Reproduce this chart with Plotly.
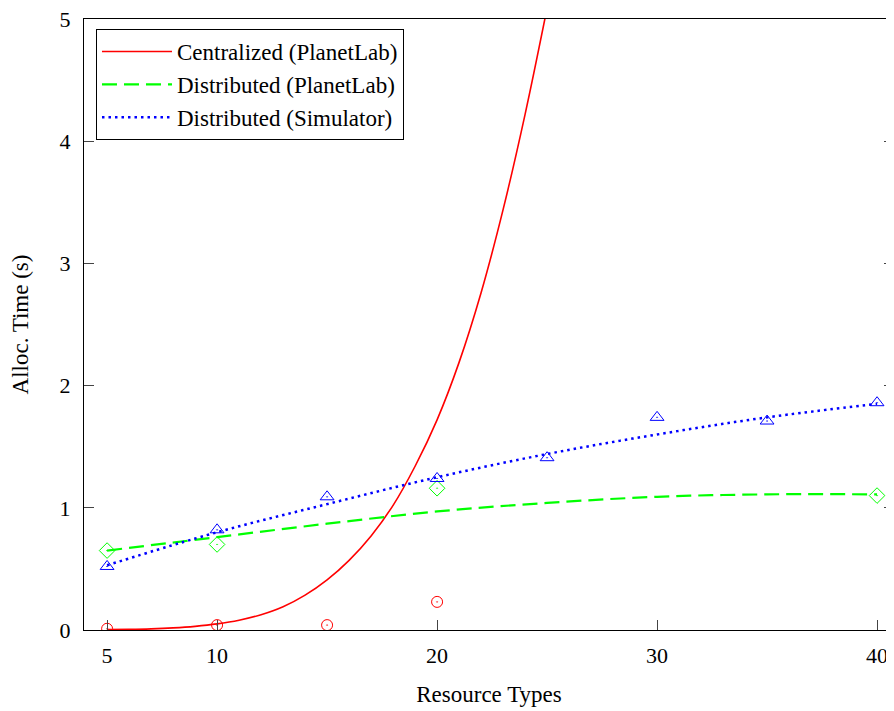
import plotly.graph_objects as go

# measured points
x_cent_pts = [5, 10, 15, 20]
y_cent_pts = [0.01, 0.04, 0.04, 0.23]
x_dist_pts = [5, 10, 20, 40]
y_dist_pts = [0.65, 0.70, 1.16, 1.10]
x_sim_pts = [5, 10, 15, 20, 25, 30, 35, 40]
y_sim_pts = [0.52, 0.82, 1.09, 1.24, 1.41, 1.74, 1.71, 1.86]

# fitted curves
x_cent_fit = [5, 6, 7, 8, 9, 10, 11, 12, 13, 14, 15, 16, 17, 18, 19, 20, 21, 22, 23, 24, 25]
y_cent_fit = [0.003, 0.005, 0.009, 0.017, 0.03, 0.05, 0.08, 0.125, 0.19, 0.285, 0.41, 0.57, 0.77, 1.02, 1.34, 1.72, 2.19, 2.76, 3.44, 4.22, 5.09]
x_dist_fit = [5, 10, 15, 20, 25, 30, 35, 40]
y_dist_fit = [0.65, 0.76, 0.87, 0.97, 1.04, 1.09, 1.11, 1.11]
x_sim_fit = [5, 10, 15, 20, 25, 30, 35, 40]
y_sim_fit = [0.53, 0.80, 1.03, 1.25, 1.44, 1.60, 1.74, 1.85]

x_ticks = [5, 10, 20, 30, 40]
y_ticks = [0, 1, 2, 3, 4, 5]

RED, GREEN, BLUE = "#ff0000", "#00ff00", "#0000ff"
FONT = "Liberation Serif, Times New Roman, serif"

fig = go.Figure()
fig.add_trace(go.Scatter(x=x_cent_fit, y=y_cent_fit, mode="lines", name="Centralized (PlanetLab)",
                         line=dict(color=RED, width=1.6, shape="spline")))
fig.add_trace(go.Scatter(x=x_dist_fit, y=y_dist_fit, mode="lines", name="Distributed (PlanetLab)",
                         line=dict(color=GREEN, width=2.2, dash="15px,7px", shape="spline")))
fig.add_trace(go.Scatter(x=x_sim_fit, y=y_sim_fit, mode="lines", name="Distributed (Simulator)",
                         line=dict(color=BLUE, width=2.5, dash="2.5px,4px", shape="spline")))
fig.add_trace(go.Scatter(x=x_cent_pts, y=y_cent_pts, mode="markers", showlegend=False,
                         marker=dict(symbol="circle-open-dot", size=11, color=RED, line=dict(width=1))))
fig.add_trace(go.Scatter(x=x_dist_pts, y=y_dist_pts, mode="markers", showlegend=False,
                         marker=dict(symbol="diamond-open-dot", size=12, color=GREEN, line=dict(width=1))))
fig.add_trace(go.Scatter(x=x_sim_pts, y=y_sim_pts, mode="markers", showlegend=False,
                         marker=dict(symbol="triangle-up-open-dot", size=12, color=BLUE, line=dict(width=1))))

# page has an 8px body margin: shrink figure and margins to compensate
fig.update_layout(
    width=886, height=703,
    margin=dict(l=76, r=0, t=11, b=81),
    plot_bgcolor="white", paper_bgcolor="white",
    font=dict(family=FONT, size=22, color="black"),
    showlegend=True,
    legend=dict(x=0.0148, y=0.9836, xanchor="left", yanchor="top",
                bordercolor="black", borderwidth=1, bgcolor="white",
                font=dict(family=FONT, size=23), tracegroupgap=0,
                itemwidth=70),
    xaxis=dict(range=[3.95, 40.77], tickvals=x_ticks, ticks="inside", ticklen=10,
               showline=True, linecolor="black", linewidth=1, mirror=True,
               showgrid=False, zeroline=False, ticklabelstandoff=6,
               ticklabeloverflow="allow",
               title=dict(text="Resource Types", standoff=18, font=dict(size=23))),
    yaxis=dict(range=[0, 5], tickvals=y_ticks, ticks="inside", ticklen=10,
               showline=True, linecolor="black", linewidth=1, mirror="ticks",
               showgrid=False, zeroline=False, ticklabelstandoff=8,
               ticklabeloverflow="allow",
               title=dict(text="Alloc. Time (s)", standoff=24, font=dict(size=23))),
)

fig.write_html("out.html")
